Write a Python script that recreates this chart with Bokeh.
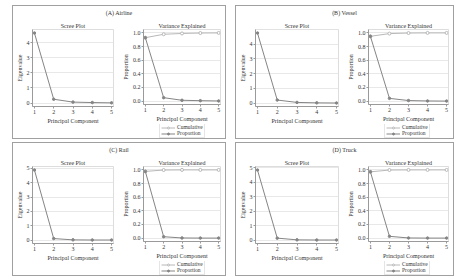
from bokeh.plotting import figure
from bokeh.layouts import row, column
from bokeh.models import Div, Range1d, Legend, LegendItem, FixedTicker, NumeralTickFormatter, Spacer
from bokeh.embed import file_html
from bokeh.resources import INLINE

# ---------------- data ----------------
components = [1, 2, 3, 4, 5]
panel_titles = ["(A) Airline", "(B) Vessel", "(C) Rail", "(D) Truck"]

eigen_airline = [4.65, 0.25, 0.06, 0.03, 0.01]
prop_airline = [0.93, 0.05, 0.012, 0.006, 0.002]
cum_airline = [0.93, 0.98, 0.992, 0.998, 1.0]

eigen_vessel = [4.75, 0.20, 0.04, 0.01, 0.0]
prop_vessel = [0.95, 0.04, 0.008, 0.002, 0.0]
cum_vessel = [0.95, 0.99, 0.998, 1.0, 1.0]

eigen_rail = [4.89, 0.10, 0.01, 0.0, 0.0]
prop_rail = [0.978, 0.02, 0.002, 0.0, 0.0]
cum_rail = [0.978, 0.998, 1.0, 1.0, 1.0]

eigen_truck = [4.86, 0.13, 0.01, 0.0, 0.0]
prop_truck = [0.972, 0.026, 0.002, 0.0, 0.0]
cum_truck = [0.972, 0.998, 1.0, 1.0, 1.0]

eigen_ticks = [0, 1, 2, 3, 4, 5]
prop_ticks = [0.0, 0.2, 0.4, 0.6, 0.8, 1.0]

# ---------------- style ----------------
FONT = "Liberation Serif"
TXT = "#333333"
AX = "#9a9a9a"
LINE = "#858585"
LINE_CUM = "#b8b8b8"
FIG_H = 118
TOP = 8
DATA_H = 78
BOTTOM = 18
LEG_H = FIG_H - TOP - DATA_H - BOTTOM
FS = "6px"


def style(p, xlabel, ylabel):
    p.xaxis.axis_label = xlabel
    p.yaxis.axis_label = ylabel
    for ax in (p.xaxis[0], p.yaxis[0]):
        ax.axis_label_text_font = FONT
        ax.axis_label_text_font_size = FS
        ax.axis_label_text_font_style = "normal"
        ax.axis_label_text_color = TXT
        ax.major_label_text_font = FONT
        ax.major_label_text_font_size = FS
        ax.major_label_text_color = TXT
        ax.axis_line_color = AX
        ax.major_tick_line_color = AX
        ax.major_tick_out = 2
        ax.major_tick_in = 0
        ax.minor_tick_line_color = None
        ax.axis_label_standoff = 1
        ax.major_label_standoff = 1
    p.xaxis.ticker = FixedTicker(ticks=components)
    p.xgrid.grid_line_color = None
    p.ygrid.grid_line_color = "#e8e8e8"
    p.outline_line_color = "#dddddd"
    p.title.text_font = FONT
    p.title.text_font_size = FS
    p.title.text_font_style = "normal"
    p.title.text_color = TXT
    p.title.align = "center"
    p.title.standoff = 1
    p.title.offset = 0


def panel(title, eig, prop, cum, width):
    sw = width // 2 - 2
    vw = width - sw
    emax = max(eig)
    s = figure(width=sw, height=FIG_H, title="Scree Plot",
               x_range=Range1d(0.9, 5.1), y_range=Range1d(-0.05 * emax, 1.05 * emax),
               output_backend="svg", toolbar_location=None,
               min_border_left=18, min_border_right=4, min_border_top=TOP,
               min_border_bottom=FIG_H - TOP - DATA_H)
    style(s, "Principal Component", "Eigenvalue")
    s.yaxis.ticker = FixedTicker(ticks=eigen_ticks)
    s.line(components, eig, line_color=LINE, line_width=1)
    s.scatter(components, eig, size=2.5, marker="circle", fill_color=LINE, line_color=LINE)

    v = figure(width=vw, height=FIG_H - LEG_H, title="Variance Explained",
               x_range=Range1d(0.9, 5.1), y_range=Range1d(-0.05, 1.05),
               output_backend="svg", toolbar_location=None,
               min_border_left=26, min_border_right=5, min_border_top=TOP,
               min_border_bottom=BOTTOM)
    style(v, "Principal Component", "Proportion")
    v.yaxis.ticker = FixedTicker(ticks=prop_ticks)
    v.yaxis.formatter = NumeralTickFormatter(format="0.0")
    v.line(components, cum, line_color=LINE_CUM, line_width=1)
    v.scatter(components, cum, size=3, marker="circle", fill_color="white", line_color=LINE_CUM)
    v.line(components, prop, line_color=LINE, line_width=1)
    v.scatter(components, prop, size=2.5, marker="circle", fill_color=LINE, line_color=LINE)

    # legend strip under the variance plot (same series, outside its visible range)
    lg = figure(width=vw, height=LEG_H, x_axis_type=None, y_axis_type=None,
                x_range=Range1d(0.9, 5.1), y_range=Range1d(2.0, 3.0),
                output_backend="svg", toolbar_location=None, min_border=0)
    lg.outline_line_color = None
    lc = lg.line(components, cum, line_color=LINE_CUM, line_width=1)
    sc = lg.scatter(components, cum, size=3, marker="circle", fill_color="white", line_color=LINE_CUM)
    lp = lg.line(components, prop, line_color=LINE, line_width=1)
    sp = lg.scatter(components, prop, size=2.5, marker="circle", fill_color=LINE, line_color=LINE)
    leg = Legend(items=[LegendItem(label="Cumulative", renderers=[lc, sc]),
                        LegendItem(label="Proportion", renderers=[lp, sp])],
                 location=(16, 0), orientation="vertical")
    leg.label_text_font = FONT
    leg.label_text_font_size = "5.5px"
    leg.label_text_color = TXT
    leg.label_height = 5
    leg.label_standoff = 2
    leg.glyph_width = 14
    leg.glyph_height = 5
    leg.spacing = 0
    leg.padding = 1
    leg.margin = 0
    leg.border_line_color = "#cccccc"
    lg.add_layout(leg, "center")

    head = Div(text=title, width=width, height=14, margin=0,
               styles={"text-align": "center", "font-family": FONT, "font-size": FS,
                       "line-height": "14px", "color": TXT})
    return column(head, row(s, column(v, lg)),
                  styles={"border": "1px solid #a0a0a0", "background": "white"})


pA = panel(panel_titles[0], eigen_airline, prop_airline, cum_airline, 212)
pB = panel(panel_titles[1], eigen_vessel, prop_vessel, cum_vessel, 217)
pC = panel(panel_titles[2], eigen_rail, prop_rail, cum_rail, 212)
pD = panel(panel_titles[3], eigen_truck, prop_truck, cum_truck, 217)

root = column(Spacer(height=5),
              row(Spacer(width=12), pA, Spacer(width=9), pB),
              Spacer(height=3),
              row(Spacer(width=12), pC, Spacer(width=9), pD),
              styles={"background": "white"})

p = root
open("out.html", "w").write(file_html(p, INLINE))
